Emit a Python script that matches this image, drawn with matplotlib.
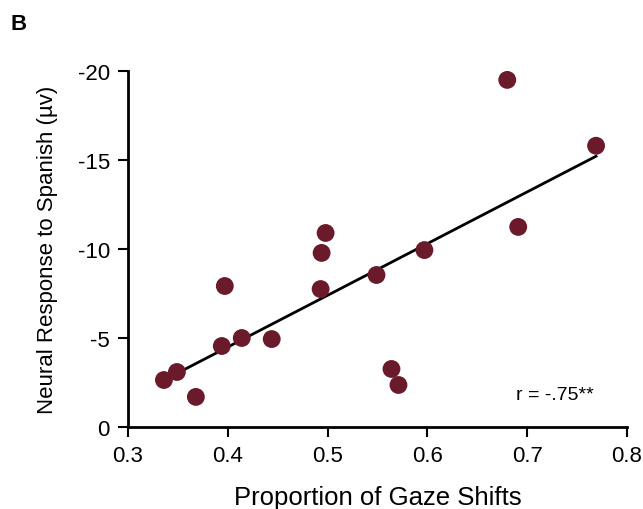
import matplotlib
matplotlib.use("Agg")
import matplotlib.pyplot as plt
import numpy as np

plt.rcParams['font.family'] = ['Liberation Sans', 'DejaVu Sans']

gaze = [0.336, 0.349, 0.368, 0.394, 0.397, 0.414, 0.444, 0.493, 0.494, 0.498,
        0.549, 0.564, 0.571, 0.597, 0.680, 0.691, 0.769]
response = [-2.64, -3.09, -1.69, -4.55, -7.92, -5.0, -4.94, -7.75, -9.78, -10.9,
            -8.54, -3.26, -2.36, -9.94, -19.5, -11.24, -15.8]
xticks = [0.3, 0.4, 0.5, 0.6, 0.7, 0.8]
yticks = [0, -5, -10, -15, -20]

fig = plt.figure(figsize=(6.43, 5.10), dpi=100)
ax = fig.add_axes([128/643, 1-428/510, (627-128)/643, (428-72)/510])

x = np.array(gaze); y = np.array(response)
m, b = np.polyfit(x, y, 1)
xl = np.array([x.min(), x.max()])
ax.plot(xl, m*xl + b, color='black', lw=2, zorder=2)
ax.scatter(x, y, s=165, color='#6b1a2b', edgecolors='none', zorder=3)

ax.set_xlim(0.3, 0.8)
ax.set_ylim(0, -20)
ax.set_xticks(xticks)
ax.set_xticklabels(['0.3', '0.4', '0.5', '0.6', '0.7', '0.8'])
ax.set_yticks(yticks)
ax.set_yticklabels(['0', '-5', '-10', '-15', '-20'])
for s in ['top', 'right']:
    ax.spines[s].set_visible(False)
for s in ['left', 'bottom']:
    ax.spines[s].set_linewidth(2)
ax.tick_params(direction='out', length=7, width=1.5, labelsize=16, pad=6)
ax.set_xlabel('Proportion of Gaze Shifts', fontsize=18.5, labelpad=14)
ax.set_ylabel('Neural Response to Spanish (\u00b5v)', fontsize=16, labelpad=14)

ax.text(0.767, -1.8, 'r = -.75**', fontsize=14, ha='right', va='center')
fig.text(10/643, 1-25/510, 'B', fontsize=16, fontweight='bold', ha='left', va='center')

fig.savefig('out.png', dpi=100)
